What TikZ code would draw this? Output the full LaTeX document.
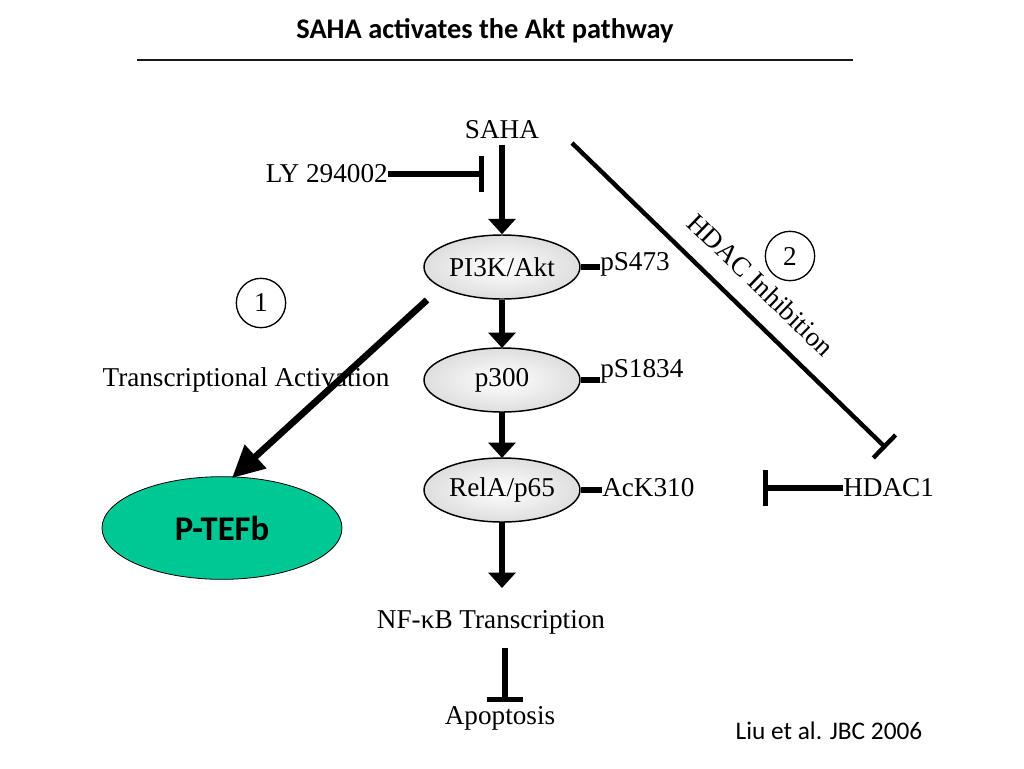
\documentclass[tikz,border=0pt]{standalone}
\usepackage{fontspec}
\setmainfont{Liberation Serif}
\newfontfamily\calib{Carlito}
\usetikzlibrary{arrows.meta,shapes.geometric}
\definecolor{tefb}{RGB}{0,200,148}
\tikzset{
  lbl/.style={font=\fontsize{20.4}{22}\selectfont, inner sep=0pt},
  prot/.style={ellipse, draw=black, line width=1.1pt, minimum width=117pt, minimum height=48pt,
    inner sep=0pt, inner color=white, outer color=black!13, font=\fontsize{20.4}{22}\selectfont},
  flow/.style={line width=3.9pt, -{Triangle[length=11.5pt,width=20pt]}},
  inhib/.style={line width=3.9pt, -{Bar[width=27pt]}},
  phos/.style={line width=3.9pt},
  numc/.style={circle, draw=black, line width=1pt, minimum size=37pt, inner sep=0pt, font=\fontsize{20.4}{22}\selectfont}
}
\begin{document}
\begin{tikzpicture}[x=0.75pt,y=-0.75pt]
\useasboundingbox (0,0) rectangle (1024,768);
% title
\node[font=\calib\bfseries\fontsize{21.3}{24}\selectfont, inner sep=0pt] (title) at (485,31) {SAHA activates the Akt pathway};
\draw[line width=2.2pt, black!90] (137,60) coordinate (tl) -- (853,60) coordinate (tr);
% nodes
\node[lbl] (saha) at (502,130) {SAHA};
\node[lbl, anchor=east] (ly) at (388,174) {LY 294002};
\node[prot] (pi3k) at (502,267) {PI3K/Akt};
\node[prot] (p300) at (502,380) {p300};
\node[prot] (rela) at (502,490) {RelA/p65};
\node[lbl, anchor=west] (ps473) at (600,264) {pS473};
\node[lbl, anchor=west] (ps1834) at (600,371) {pS1834};
\node[lbl, anchor=west] (ack) at (602,488) {AcK310};
\node[lbl] (nfkb) at (491,622) {NF-κB Transcription};
\node[lbl] (apop) at (500,718) {Apoptosis};
\node[lbl, anchor=west] (hdac1) at (843,488) {HDAC1};
\node[lbl] (trans) at (246,380) {Transcriptional Activation};
\node[numc] (c1) at (261,303) {1};
\node[numc] (c2) at (790,256) {2};
\node[ellipse, draw=black, line width=0.6pt, fill=tefb, minimum width=180pt, minimum height=77pt,
  font=\calib\bfseries\fontsize{26}{28}\selectfont] (ptefb) at (222,528) {P-TEFb};
\node[font=\calib\fontsize{19}{22}\selectfont, inner sep=0pt] (ref) at (829,731) {Liu et al. JBC 2006};
% coordinates
\coordinate (sahab) at (502,145);
\coordinate (lyend) at (484,174);
\coordinate (pibot) at (502,300);
\coordinate (p3top) at (502,348);
\coordinate (p3bot) at (502,412);
\coordinate (retop) at (502,458);
\coordinate (rebot) at (502,522);
\coordinate (nftop) at (502,588);
\coordinate (nfbot) at (505,648);
\coordinate (aptop) at (505,702);
\coordinate (hs) at (572,143);
\coordinate (he) at (886,448);
\coordinate (hdacl) at (763,488);
\coordinate (bigs) at (427,300);
\coordinate (bige) at (232,478);
% connectors
\draw[flow] (sahab) -- (pi3k.north);
\draw[inhib] (ly.east) -- (lyend);
\draw[flow] (pibot) -- (p3top);
\draw[flow] (p3bot) -- (retop);
\draw[flow] (rebot) -- (nftop);
\draw[inhib] (nfbot) -- (aptop);
\draw[phos] (pi3k.east) -- (ps473.west |- pi3k.east);
\draw[phos] (p300.east) -- (ps1834.west |- p300.east);
\draw[phos] (rela.east) -- (ack.west |- rela.east);
\draw[line width=3.3pt, -{Bar[width=24pt]}] (hs) -- (he);
\draw[inhib] (hdac1.west) -- (hdacl);
\draw[line width=5pt, -{Triangle[length=24pt,width=23pt]}] (bigs) -- (bige);
\node[lbl, rotate=-44] (hdaci) at (761,285) {HDAC Inhibition};
\end{tikzpicture}
\end{document}
